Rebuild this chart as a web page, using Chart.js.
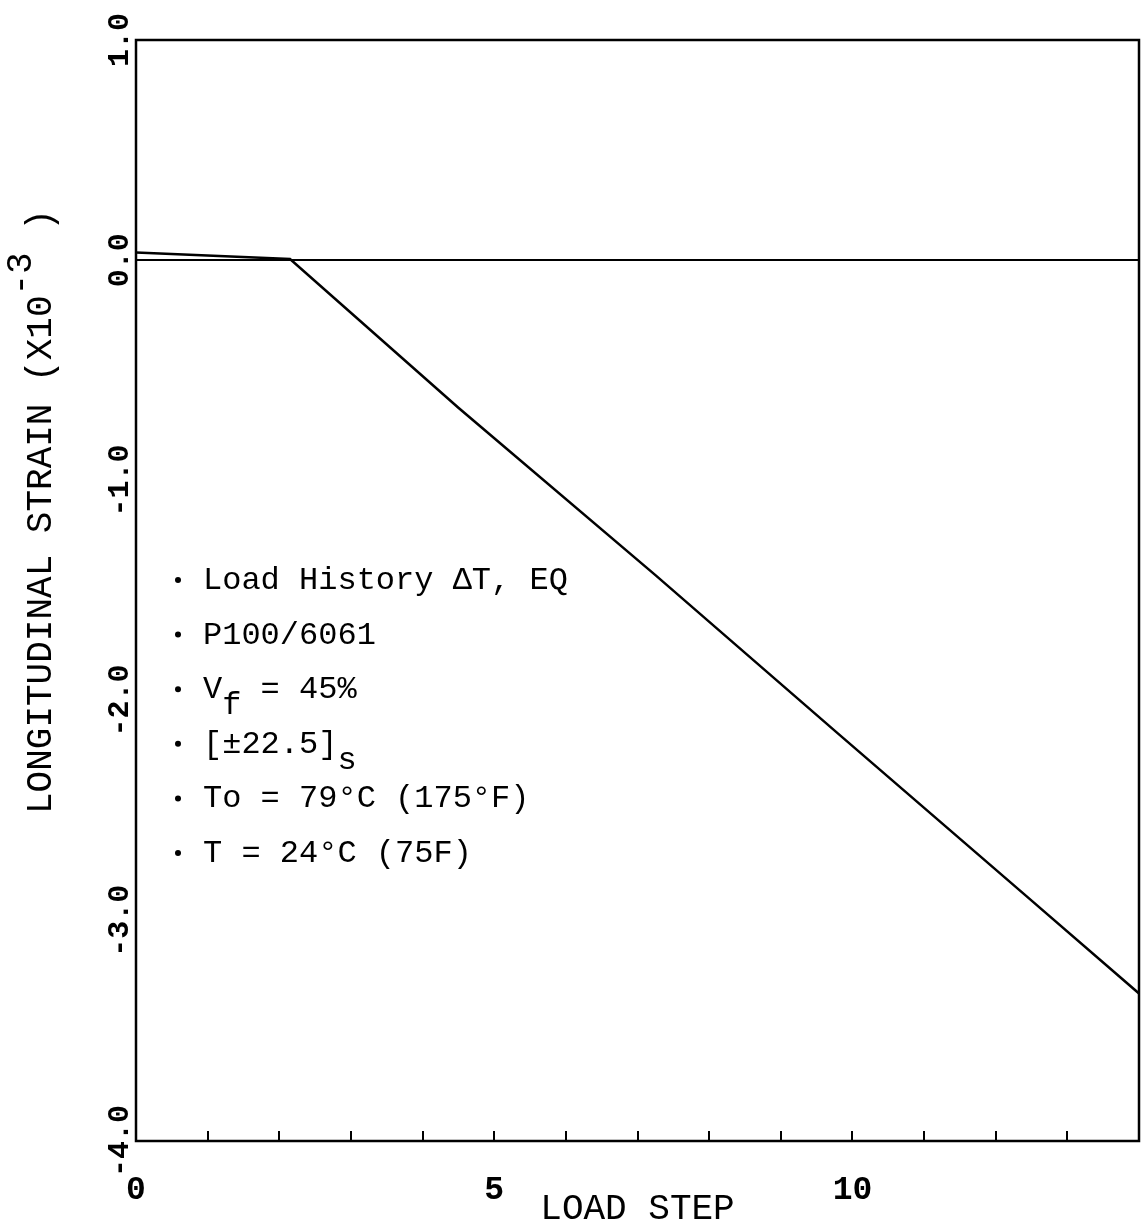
<!DOCTYPE html>
<html>
<head>
<meta charset="utf-8">
<script src="https://cdn.jsdelivr.net/npm/chart.js@4.4.1/dist/chart.umd.min.js"></script>
<style>
  html, body { margin: 0; padding: 0; background: #fff; overflow: hidden; }
  #wrap { position: relative; width: 1145px; height: 1231px; }
</style>
</head>
<body>
<div id="wrap"><canvas id="myChart"></canvas></div>
<script>
const ctx = document.getElementById('myChart');

// values
const loadStep = [0, 2.15, 4.5, 7.25, 9.8, 12.4, 14];
const strain = [0.035, 0.005, -0.67, -1.43, -2.15, -2.88, -3.33];

const xLabels = {0: '0', 5: '5', 10: '10'};
const yTicks = [1, 0, -1, -2, -3, -4];

const noteLines = [
  [['Load History \u0394T, EQ', 0]],
  [['P100/6061', 0]],
  [['V', 0], ['f', 1], [' = 45%', 0]],
  [['[\u00b122.5]', 0], ['s', 1]],
  [['To = 79\u00b0C (175\u00b0F)', 0]],
  [['T = 24\u00b0C (75F)', 0]]
];
const yTitle = [['LONGITUDINAL STRAIN (X10', 0], ['-3', -1], [' )', 0]];

const MONO = '"Liberation Mono", "Courier New", monospace';

const extras = {
  id: 'extras',
  afterDraw(chart) {
    const c = chart.ctx;
    const a = chart.chartArea;
    c.save();
    // frame
    c.strokeStyle = '#000';
    c.lineWidth = 2.5;
    c.strokeRect(a.left, a.top, a.right - a.left, a.bottom - a.top);

    // notes with bullets
    c.fillStyle = '#000';
    c.font = '32px ' + MONO;
    c.textBaseline = 'alphabetic';
    let base = 589;
    noteLines.forEach(line => {
      c.beginPath();
      c.arc(178, base - 9, 3, 0, Math.PI * 2);
      c.fill();
      let x = 203;
      line.forEach(([t, s]) => {
        c.fillText(t, x, base + s * 16);
        x += c.measureText(t).width;
      });
      base += 54.6;
    });

    // y axis title, rotated
    c.translate(51, 814);
    c.rotate(-Math.PI / 2);
    c.font = '36px ' + MONO;
    let x = 0;
    yTitle.forEach(([t, s]) => {
      c.fillText(t, x, s * 20);
      x += c.measureText(t).width;
    });
    c.restore();
  }
};

Chart.defaults.font.family = MONO;
Chart.defaults.color = '#000';

new Chart(ctx, {
  type: 'line',
  data: {
    datasets: [{
      data: loadStep.map((v, i) => ({x: v, y: strain[i]})),
      borderColor: '#000',
      borderWidth: 2.5,
      pointRadius: 0,
      tension: 0,
      fill: false
    }]
  },
  options: {
    responsive: true,
    maintainAspectRatio: false,
    animation: false,
    events: [],
    layout: { padding: { top: 40, right: 6, bottom: 0, left: 0 } },
    plugins: { legend: { display: false }, tooltip: { enabled: false } },
    scales: {
      x: {
        type: 'linear',
        min: 0,
        max: 14,
        afterFit: s => { s.height = 90; s.paddingLeft = 0; s.paddingRight = 0; },
        border: { display: false },
        grid: { drawOnChartArea: false, color: '#000', lineWidth: 2, tickLength: -10 },
        ticks: {
          stepSize: 1,
          autoSkip: false,
          maxRotation: 0,
          padding: 40,
          font: { size: 33, weight: 'bold' },
          callback: v => xLabels[v] || ''
        },
        title: {
          display: true,
          text: 'LOAD STEP',
          font: { size: 36 },
          padding: { top: 0, bottom: 0 }
        }
      },
      y: {
        min: -4,
        max: 1,
        afterFit: s => { s.width = 136; },
        afterBuildTicks: s => { s.ticks = yTicks.map(v => ({value: v})); },
        border: { display: false },
        grid: {
          drawTicks: false,
          color: c => c.tick && c.tick.value === 0 ? '#000' : 'rgba(0,0,0,0)',
          lineWidth: 2
        },
        ticks: {
          minRotation: 90,
          maxRotation: 90,
          crossAlign: 'center',
          padding: -20,
          font: { size: 30, weight: 'bold' },
          callback: v => v.toFixed(1)
        }
      }
    }
  },
  plugins: [extras]
});
</script>
</body>
</html>
